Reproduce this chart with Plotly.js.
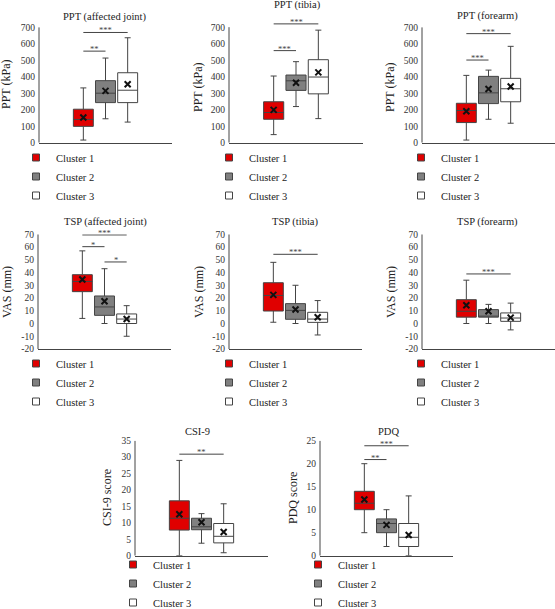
<!DOCTYPE html>
<html><head><meta charset="utf-8">
<script src="https://cdn.plot.ly/plotly-3.0.1.min.js"></script>
<style>html,body{margin:0;padding:0;background:#fff}</style>
</head><body><div id="chart" style="width:555px;height:609px"></div>
<script>
// ---------- data ----------
const clusters = ['Cluster 1', 'Cluster 2', 'Cluster 3'];
const clusterPos = [1, 2, 3];
const clusterFill = ['#e00000', '#808080', '#ffffff'];
const panelTitles = ['PPT (affected joint)', 'PPT (tibia)', 'PPT (forearm)',
  'TSP (affected joint)', 'TSP (tibia)', 'TSP (forearm)', 'CSI-9', 'PDQ'];
const yTitles = ['PPT (kPa)', 'PPT (kPa)', 'PPT (kPa)', 'VAS (mm)', 'VAS (mm)', 'VAS (mm)', 'CSI-9 score', 'PDQ score'];

const lowerWhisker = [[16,145,125],[49,219,146],[16,142,118],[4,0,-10],[1,0,-9],[0,0,-5],[0,3.8,0.9],[5,2,0]];
const q1Values     = [[99,243,243],[142,317,296],[122,237,248],[25,6.4,0],[9.8,3.3,0.9],[5,5,1.7],[7.8,7.9,3.9],[10,5,2]];
const medianValues = [[141,300,318],[183,375,398],[195,302,327],[33,13,3.5],[22,10.3,3.5],[9.6,5.6,4.3],[11.4,8.8,5.9],[11.4,7,4]];
const q3Values     = [[203,376,424],[248,410,503],[239,402,390],[38.3,21.6,7.5],[32,15.6,8.8],[18.7,10.9,8.3],[16.7,11.4,9.8],[14,8,7]];
const upperWhisker = [[332,513,636],[404,491,682],[408,440,584],[57,43,14],[48,30,18],[34,15,16],[29,12.8,15.8],[20,10,13]];
const meanValues   = [[153,314,354],[199,363,426],[191,325,341],[34.5,17.5,3.5],[22.5,11,4.9],[14.3,9.6,4.6],[12.6,10.2,7.2],[12.2,6.7,4.5]];

const pptTicks = [0,100,200,300,400,500,600,700];
const pptTickText = ['0','100','200','300','400','500','600','700'];
const vasTicks = [-20,-10,0,10,20,30,40,50,60,70];
const vasTickText = ['-20','-10','0','10','20','30','40','50','60','70'];
const csiTicks = [0,5,10,15,20,25,30,35];
const csiTickText = ['0','5','10','15','20','25','30','35'];
const pdqTicks = [0,5,10,15,20,25];
const pdqTickText = ['0','5','10','15','20','25'];
const panelTicks = [pptTicks,pptTicks,pptTicks,vasTicks,vasTicks,vasTicks,csiTicks,pdqTicks];
const panelTickText = [pptTickText,pptTickText,pptTickText,vasTickText,vasTickText,vasTickText,csiTickText,pdqTickText];

// significance brackets: [from cluster, to cluster, level, label]
const significance = [
  [[1,2,555,'**'],[1,3,668,'***']],
  [[1,2,558,'***'],[1,3,720,'***']],
  [[1,2,501,'***'],[1,3,661,'***']],
  [[1,3,69.5,'***'],[1,2,60.3,'*'],[2,3,48.3,'*']],
  [[1,3,54.3,'***']],
  [[1,3,38.9,'***']],
  [[1,3,30.9,'**']],
  [[1,3,23.9,'***'],[1,2,20.9,'**']]
];

// ---------- layout geometry (pixels) ----------
const W = 555, H = 609;
const geo = [
  {l:39,  r:172, b:142.7, t:27.2, ymin:0,   ymax:700, ytop:700, tx:105, ty:17,  yx:6,   yy:85,  lx:16,  ly:143},
  {l:229, r:363, b:142.7, t:21.4, ymin:0,   ymax:735, ytop:700, tx:297, ty:5,   yx:198, yy:88,  lx:209, ly:143},
  {l:422, r:555, b:142.7, t:27.2, ymin:0,   ymax:700, ytop:700, tx:487, ty:16,  yx:390, yy:88,  lx:401, ly:143},
  {l:38,  r:171, b:349,   t:234.3,ymin:-20, ymax:70,  ytop:70,  tx:105, ty:222, yx:7,   yy:292, lx:16,  ly:349},
  {l:229, r:362, b:349,   t:234.3,ymin:-20, ymax:70,  ytop:70,  tx:295, ty:222, yx:199, yy:292, lx:209, ly:349},
  {l:422, r:555, b:349,   t:234.3,ymin:-20, ymax:70,  ytop:70,  tx:487, ty:222, yx:391, yy:292, lx:401, ly:349},
  {l:135, r:268, b:555.7, t:440.7,ymin:0,   ymax:35,  ytop:35,  tx:197, ty:431, yx:107, yy:498, lx:113, ly:550},
  {l:320, r:453, b:555.7, t:440.7,ymin:0,   ymax:25,  ytop:25,  tx:388, ty:431, yx:293, yy:498, lx:298, ly:550}
];

const FONT = 'Liberation Serif';
const traces = [];
const layout = {
  width: W, height: H, autosize: false,
  margin: {l:0, r:0, t:0, b:0, autoexpand: false},
  paper_bgcolor: '#fff', plot_bgcolor: 'rgba(0,0,0,0)',
  font: {family: FONT, size: 10, color: '#222'},
  showlegend: true,
  shapes: [], annotations: []
};

geo.forEach((g, i) => {
  const n = i === 0 ? '' : String(i + 1);
  const xr = 'x' + n, yr = 'y' + n, lg = 'legend' + n;
  layout['xaxis' + n] = {
    domain: [g.l / W, g.r / W], anchor: yr, range: [-1, 5],
    showline: true, linecolor: '#444', linewidth: 1,
    showticklabels: false, ticks: '', showgrid: false, zeroline: false, fixedrange: true
  };
  layout['yaxis' + n] = {
    domain: [1 - g.b / H, 1 - g.t / H], anchor: xr, range: [g.ymin, g.ymax],
    showline: false, showgrid: false, zeroline: false, ticks: '', ticklabelstandoff: 3,
    tickmode: 'array', tickvals: panelTicks[i], ticktext: panelTickText[i],
    tickfont: {family: FONT, size: 9.5, color: '#333'}, fixedrange: true
  };
  layout[lg] = {
    x: g.lx / W, y: 1 - g.ly / H, xanchor: 'left', yanchor: 'top',
    bgcolor: 'rgba(0,0,0,0)', borderwidth: 0,
    font: {family: FONT, size: 10.5, color: '#222'}
  };
  // y axis line up to top tick
  layout.shapes.push({type: 'line', xref: xr + ' domain', yref: yr, x0: 0, x1: 0,
    y0: g.ymin, y1: g.ytop, line: {color: '#444', width: 1}});

  clusters.forEach((c, k) => {
    traces.push({
      type: 'box', xaxis: xr, yaxis: yr, x: [clusterPos[k]],
      q1: [q1Values[i][k]], median: [medianValues[i][k]], q3: [q3Values[i][k]],
      lowerfence: [lowerWhisker[i][k]], upperfence: [upperWhisker[i][k]],
      width: 0.9, whiskerwidth: 0.3, boxpoints: false,
      fillcolor: clusterFill[k], line: {color: '#444', width: 1},
      showlegend: false, hoverinfo: 'skip', name: c
    });
    traces.push({
      type: 'scatter', mode: 'markers', xaxis: xr, yaxis: yr, x: [null], y: [null],
      name: c, legend: lg, showlegend: true,
      marker: {symbol: 'square', size: 7, color: clusterFill[k], line: {color: '#444', width: 1}}
    });
  });
  traces.push({
    type: 'scatter', mode: 'markers', xaxis: xr, yaxis: yr,
    x: clusterPos, y: meanValues[i], showlegend: false, hoverinfo: 'skip',
    marker: {symbol: 'x-thin', size: 6, color: '#111', line: {color: '#111', width: 2}}
  });

  significance[i].forEach(s => {
    layout.shapes.push({type: 'line', xref: xr, yref: yr, x0: s[0], x1: s[1], y0: s[2], y1: s[2],
      line: {color: '#444', width: 1}});
    layout.annotations.push({xref: xr, yref: yr, x: (s[0] + s[1]) / 2, y: s[2], text: s[3],
      showarrow: false, yanchor: 'middle', yshift: 2, font: {family: FONT, size: 8.5, color: '#444'}});
  });

  layout.annotations.push({xref: 'paper', yref: 'paper', x: g.tx / W, y: 1 - g.ty / H,
    text: panelTitles[i], showarrow: false, xanchor: 'center', yanchor: 'middle',
    font: {family: FONT, size: 10.5, color: '#222'}});
  layout.annotations.push({xref: 'paper', yref: 'paper', x: g.yx / W, y: 1 - g.yy / H,
    text: yTitles[i], showarrow: false, textangle: -90, xanchor: 'center', yanchor: 'middle',
    font: {family: FONT, size: 12, color: '#222'}});
});

Plotly.newPlot('chart', traces, layout, {staticPlot: true, displayModeBar: false});
</script></body></html>
